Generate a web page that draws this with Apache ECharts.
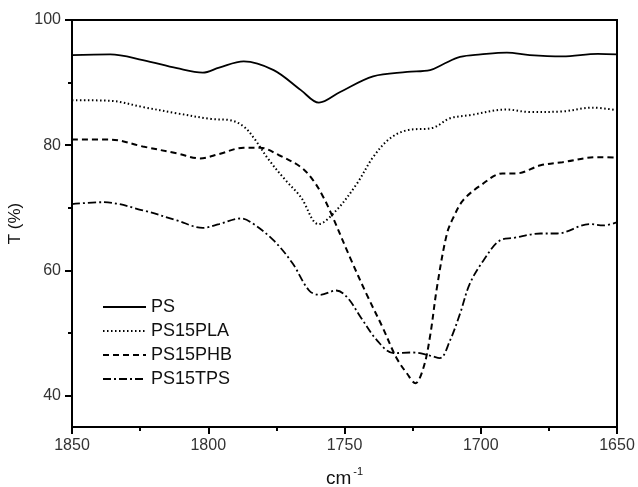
<!DOCTYPE html>
<html>
<head>
<meta charset="utf-8">
<script src="https://cdn.jsdelivr.net/npm/echarts@6/dist/echarts.min.js"></script>
<style>
  html, body { margin: 0; padding: 0; background: #fff; }
  #chart { width: 638px; height: 487px; }
</style>
</head>
<body>
<div id="chart"></div>
<script>
// FTIR transmittance spectra in the carbonyl region (wavenumber in cm-1, T in %)
const seriesNames = ['PS', 'PS15PLA', 'PS15PHB', 'PS15TPS'];

const psWavenumber = [1850, 1836, 1824, 1811.5, 1802, 1796, 1787, 1776, 1766, 1759.4, 1751.6, 1739.5, 1727, 1718.6, 1714, 1707.6, 1700, 1690.4, 1682, 1670, 1657, 1650];
const psT          = [94.4, 94.5, 93.6, 92.3, 91.6, 92.4, 93.4, 92.0, 88.8, 86.8, 88.5, 91.0, 91.7, 92.0, 92.9, 94.1, 94.5, 94.8, 94.4, 94.2, 94.6, 94.5];

const plaWavenumber = [1850, 1836, 1824, 1811.5, 1799, 1792, 1787, 1783, 1778, 1772, 1766, 1759.5, 1753, 1745.4, 1739.5, 1733.3, 1727, 1717.5, 1711.3, 1704, 1690.4, 1682, 1670, 1659, 1650];
const plaT          = [87.2, 87.1, 86.1, 85.1, 84.2, 84.0, 83.0, 81.0, 77.8, 74.6, 71.7, 67.4, 69.6, 73.9, 78.1, 81.1, 82.4, 82.8, 84.3, 84.8, 85.7, 85.3, 85.4, 86.0, 85.6];

const phbWavenumber = [1850, 1836, 1824, 1811.5, 1803, 1796, 1787, 1781, 1774, 1766, 1761.5, 1758, 1755, 1748, 1742, 1736, 1731, 1727, 1724, 1721, 1718.6, 1716, 1712.4, 1710, 1706.5, 1700, 1692, 1687, 1678, 1670, 1657, 1650];
const phbT          = [80.9, 80.9, 79.8, 78.7, 77.9, 78.6, 79.6, 79.6, 78.4, 76.5, 74.4, 71.9, 69.2, 62.1, 56.3, 50.9, 46.1, 43.5, 42.0, 44.5, 49.5, 57.5, 65.9, 68.5, 71.2, 73.6, 75.5, 75.5, 76.8, 77.3, 78.1, 78.0];

const tpsWavenumber = [1850, 1838.6, 1824, 1811.5, 1802, 1796, 1788, 1784, 1776, 1769, 1763, 1759, 1753, 1749, 1744, 1738, 1732, 1725, 1718.6, 1715, 1711.3, 1707.6, 1704, 1699, 1693, 1688, 1678, 1672, 1660, 1655, 1650];
const tpsT          = [70.6, 70.9, 69.6, 68.0, 66.8, 67.4, 68.3, 67.6, 64.8, 61.1, 56.8, 56.1, 56.8, 55.7, 52.5, 48.8, 46.8, 46.9, 46.4, 46.0, 48.8, 53.1, 57.9, 61.6, 64.8, 65.2, 65.9, 65.9, 67.4, 67.2, 67.7];

const yMajorTicks = [40, 60, 80, 100];
const yMinorTicks = [50, 70, 90];

const pair = (xs, ys) => xs.map((x, i) => [x, ys[i]]);

const FONT = 'Liberation Sans, Arial, sans-serif';
const lineTypes = ['solid', [1.5, 2.5], [6, 4], [8, 3, 2, 3]];
const lineWidths = [1.8, 2, 2, 1.8];
const datasets = [pair(psWavenumber, psT), pair(plaWavenumber, plaT), pair(phbWavenumber, phbT), pair(tpsWavenumber, tpsT)];

const chart = echarts.init(document.getElementById('chart'), null, { renderer: 'canvas' });

chart.setOption({
  animation: false,
  backgroundColor: '#fff',
  textStyle: { fontFamily: FONT },
  grid: {
    left: 72, right: 21, top: 20, bottom: 60,
    containLabel: false,
    outerBoundsMode: 'none',
    show: true, borderColor: '#000', borderWidth: 2, backgroundColor: 'transparent'
  },
  legend: {
    orient: 'vertical',
    left: 102, top: 298,
    padding: 0,
    itemWidth: 43, itemHeight: 14, itemGap: 6,
    // hide the marker dot so only the line sample shows
    itemStyle: { opacity: 0 },
    textStyle: { fontSize: 18, color: '#111', fontFamily: FONT, lineHeight: 18 },
    data: seriesNames
  },
  xAxis: {
    type: 'value',
    min: 1650, max: 1850, interval: 50,
    inverse: true,
    name: '{a|cm}{b|-1}',
    nameLocation: 'middle',
    nameGap: 39,
    nameTextStyle: {
      rich: {
        a: { fontSize: 19, color: '#111', fontFamily: FONT },
        b: { fontSize: 11, color: '#111', fontFamily: FONT, padding: [0, 0, 14, 2] }
      }
    },
    axisLine: { show: true, lineStyle: { color: '#000', width: 2 } },
    axisTick: { show: true, inside: false, length: 7, lineStyle: { color: '#000', width: 2 } },
    minorTick: { show: true, splitNumber: 2, length: 4, lineStyle: { color: '#000', width: 2 } },
    axisLabel: { fontSize: 16, color: '#333', margin: 11, fontFamily: FONT, formatter: v => String(v) },
    splitLine: { show: false },
    minorSplitLine: { show: false }
  },
  yAxis: [
    {
      type: 'value',
      min: 35, max: 100,
      position: 'left',
      name: 'T (%)',
      nameLocation: 'middle',
      nameGap: 39,
      nameRotate: 90,
      nameTextStyle: { fontSize: 17, color: '#111', fontFamily: FONT },
      axisLine: { show: true, lineStyle: { color: '#000', width: 2 } },
      axisTick: { show: true, length: 7, customValues: yMajorTicks, lineStyle: { color: '#000', width: 2 } },
      axisLabel: { fontSize: 16, color: '#333', margin: 11, customValues: yMajorTicks, fontFamily: FONT },
      splitLine: { show: false }
    },
    {
      // short minor ticks between the labelled ones
      type: 'value',
      min: 35, max: 100,
      position: 'left',
      axisLine: { show: false },
      axisTick: { show: true, length: 4, customValues: yMinorTicks, lineStyle: { color: '#000', width: 2 } },
      axisLabel: { show: false },
      splitLine: { show: false }
    }
  ],
  series: seriesNames.map((name, i) => ({
    name,
    type: 'line',
    data: datasets[i],
    xAxisIndex: 0,
    yAxisIndex: 0,
    symbol: 'none',
    smooth: 0.35,
    lineStyle: { color: '#000', width: lineWidths[i], type: lineTypes[i] },
    itemStyle: { color: '#000' }
  }))
});
</script>
</body>
</html>
